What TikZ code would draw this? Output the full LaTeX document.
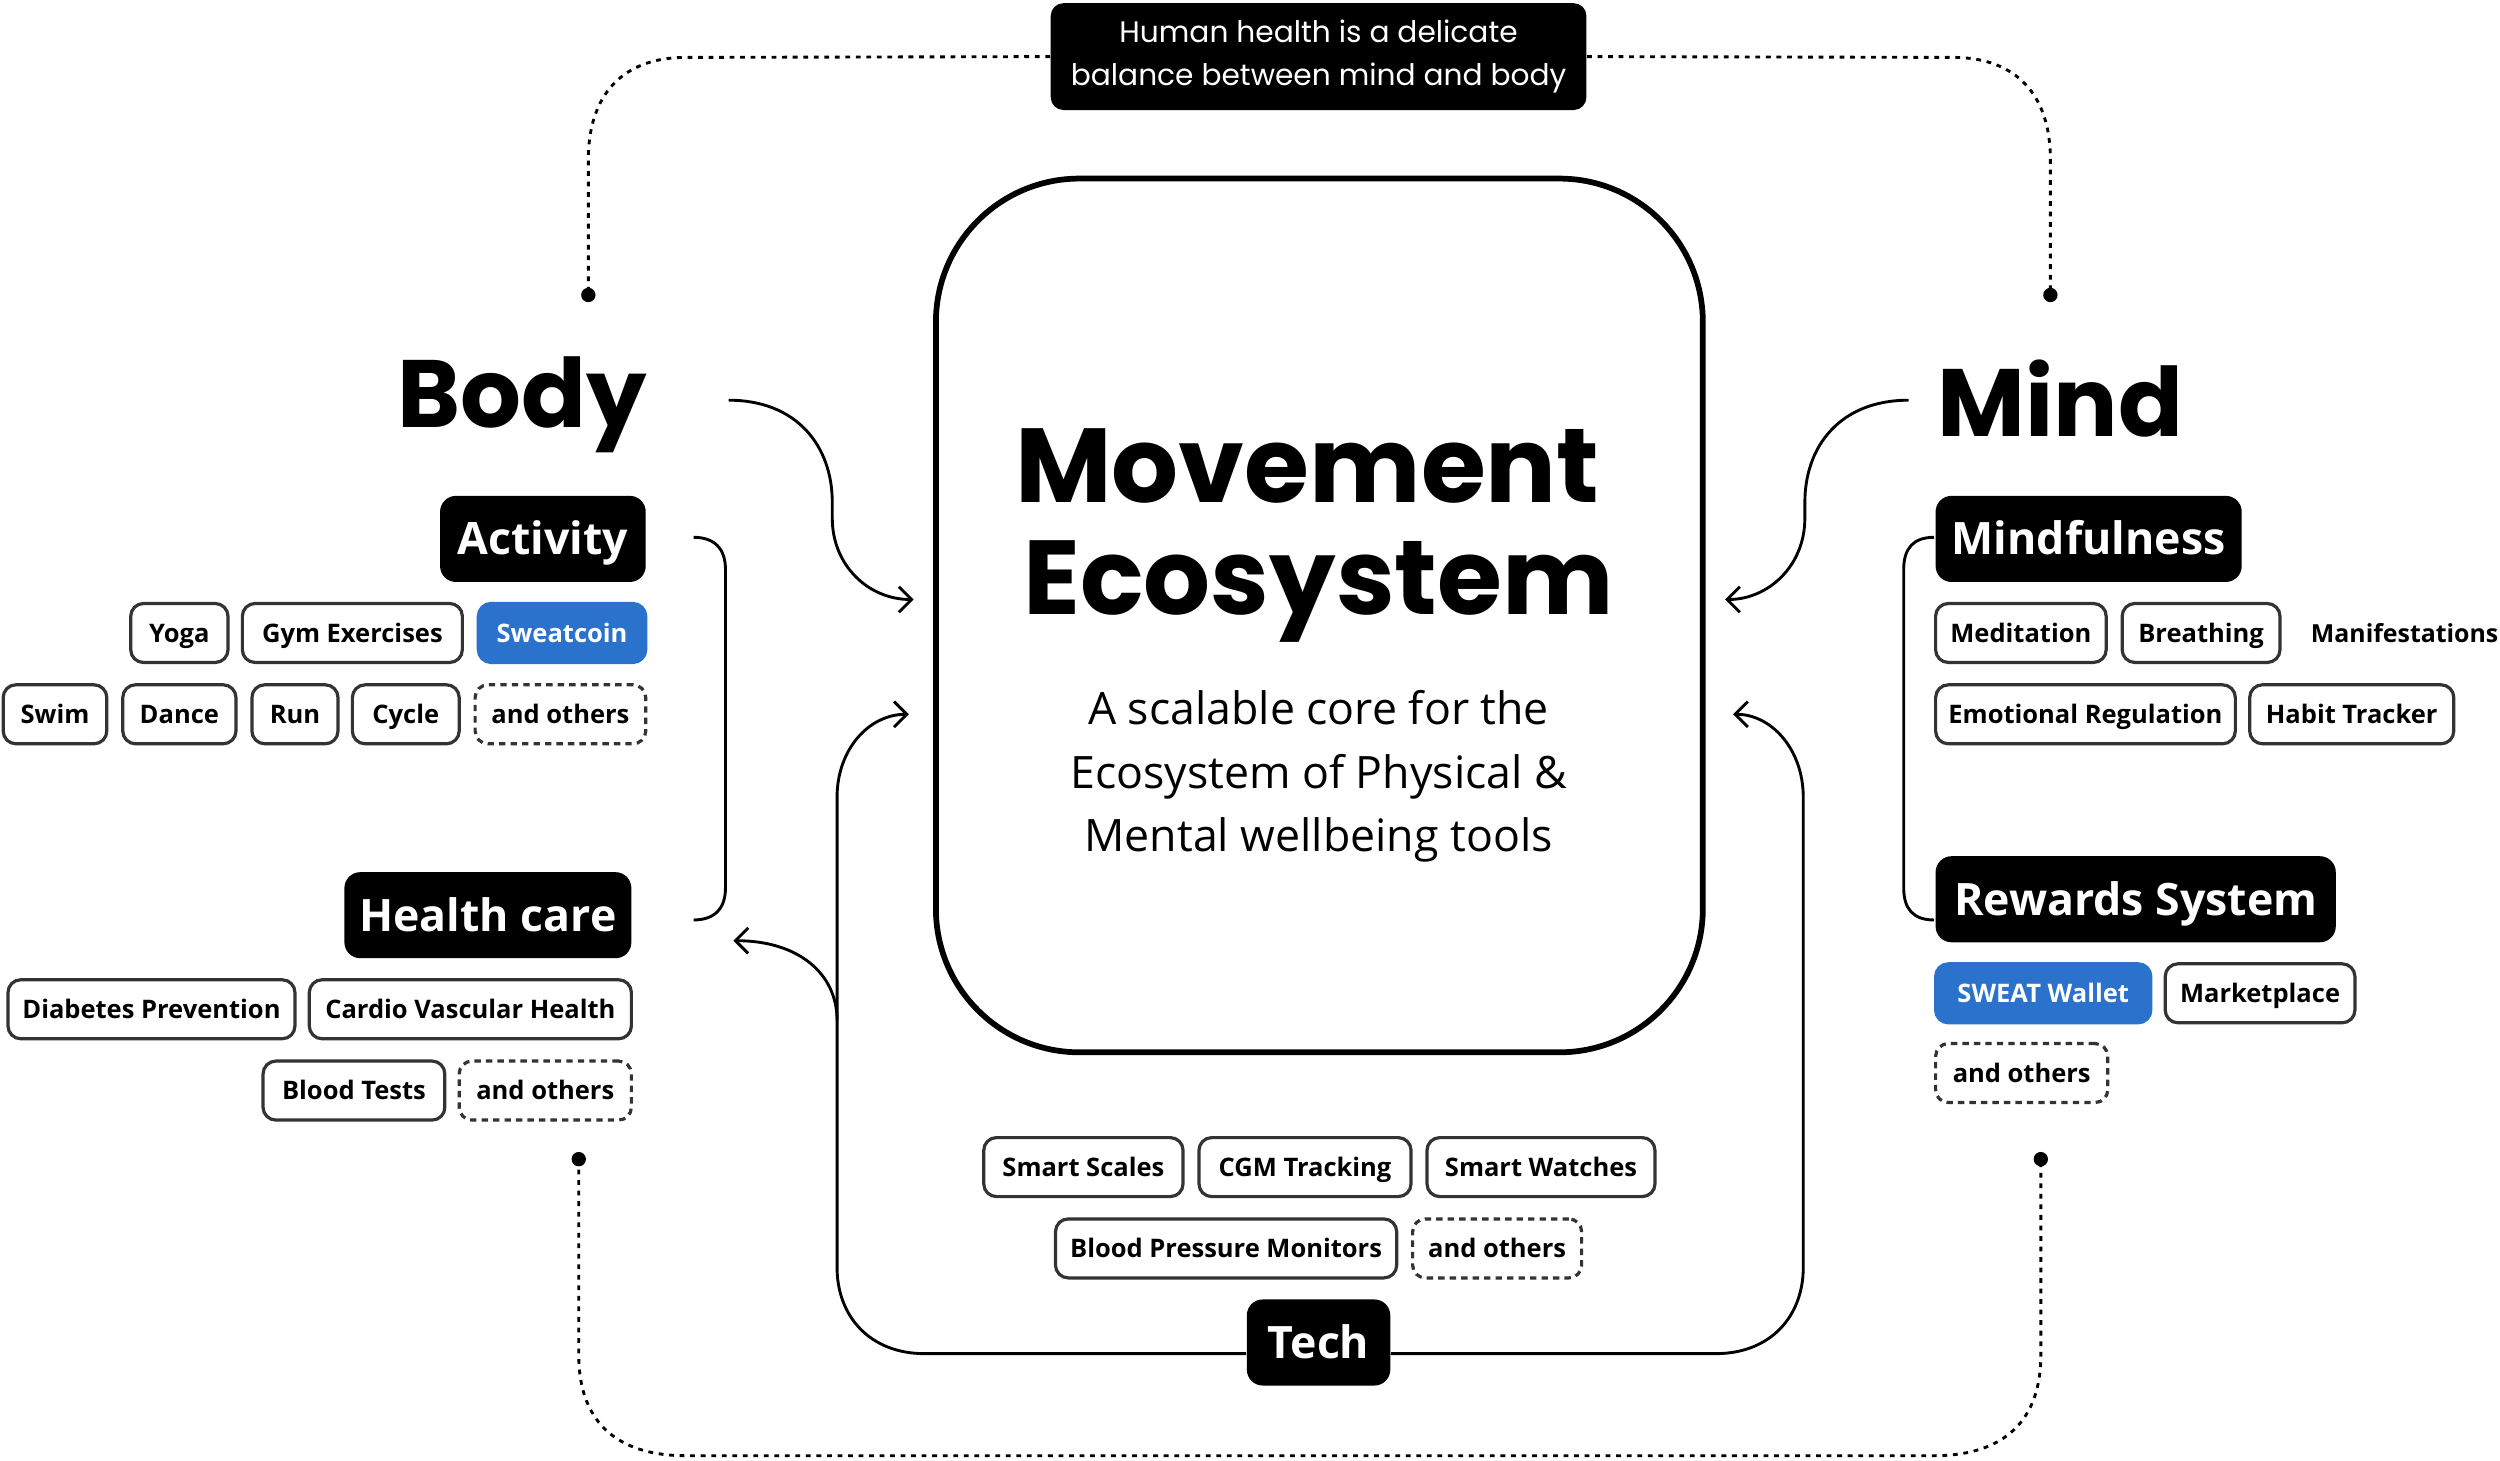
\documentclass[tikz,border=0pt]{standalone}
\usepackage{fontspec}
\setmainfont{Open Sans}
\newfontfamily\pop{Poppins}
\usetikzlibrary{arrows.meta}
\definecolor{blu}{HTML}{2A72CC}
\definecolor{chipline}{HTML}{333333}
\tikzset{
 chip/.style={draw=chipline,line width=1pt,rounded corners=4pt,minimum height=18.5pt,inner sep=0pt,text height=5.8pt,text depth=0pt,font=\fontsize{8}{9}\selectfont\bfseries,text=black},
 bluechip/.style={chip,fill=blu,draw=blu,text=white},
 dashchip/.style={chip,dash pattern=on 2pt off 1.6pt},
 lab/.style={fill=black,text=white,rounded corners=5pt,minimum height=27pt,inner sep=0pt,text height=10pt,text depth=0pt,font=\fontsize{14}{16}\selectfont\bfseries},
 conn/.style={line width=0.9pt,black},
 arr/.style={conn,-{Straight Barb[length=4pt,width=8pt]}},
 dots/.style={line width=0.9pt,dash pattern=on 1.5pt off 1.8pt},
}
\newcommand{\chipat}[6]{\node[#6,minimum width={(#3-#2)*0.5pt}] (#1) at ({(#2+#3)/2},#4) {#5};}
\begin{document}
\begin{tikzpicture}[x=0.5pt,y=-0.5pt]
\useasboundingbox[fill=white] (0,0) rectangle (1568,916);
% top box
\node[fill=black,rounded corners=4pt,minimum width=168pt,minimum height=33.5pt,inner sep=0pt,text=white,align=center,font=\pop\fontsize{9.3}{13.5}\selectfont] (top) at (827,35.5) {Human health is a delicate\\balance between mind and body};
\coordinate (dl) at (369,185); \coordinate (dr) at (1286,185);
\coordinate (bl) at (363,727); \coordinate (br) at (1280,727);
\fill (dl) circle (4.5); \fill (dr) circle (4.5); \fill (bl) circle (4.5); \fill (br) circle (4.5);
\draw[dots] (top.west) -- (430,36) .. controls (390,36) and (369,60) .. (369,100) -- (dl);
\draw[dots] (top.east) -- (1225,36) .. controls (1265,36) and (1286,60) .. (1286,100) -- (dr);
\draw[dots] (bl) -- (363,850) .. controls (363,890) and (385,913) .. (430,913) -- (1213,913) .. controls (1258,913) and (1280,890) .. (1280,850) -- (br);
% center
\draw[line width=1.8pt,rounded corners=45pt,fill=white] (587,112) rectangle (1068,660);
\node[font=\pop\bfseries\fontsize{33}{38}\selectfont] (mov) at (820,292) {Movement};
\node[font=\pop\bfseries\fontsize{33}{38}\selectfont] (eco) at (827,371) {Ecosystem};
\node[align=center,font=\fontsize{14}{20}\selectfont] (sub) at (827,487) {A scalable core for the\\Ecosystem of Physical \&\\Mental wellbeing tools};
% Body / Mind
\node[anchor=east,font=\pop\bfseries\fontsize{30}{34}\selectfont,inner sep=0pt] (body) at (406,254) {Body};
\node[anchor=west,font=\pop\bfseries\fontsize{30}{34}\selectfont,inner sep=0pt] (mind) at (1215,250) {Mind};
\coordinate (ba) at (573,376); \coordinate (ma) at (1082,376);
\draw[arr] (457,251) .. controls (500,251) and (522,280) .. (522,315) -- (522,325) .. controls (522,355) and (545,376) .. (ba);
\draw[arr] (1197,251) .. controls (1154,251) and (1132,280) .. (1132,315) -- (1132,325) .. controls (1132,355) and (1109,376) .. (ma);
% labels
\node[lab,minimum width=64.5pt] (act) at (340.5,338) {Activity};
\node[lab,minimum width=90pt] (hc) at (306,574) {Health care};
\node[lab,minimum width=96pt] (mf) at (1310,338) {Mindfulness};
\node[lab,minimum width=125.5pt] (rs) at (1339.5,564) {Rewards System};
\node[lab,minimum width=45pt] (tech) at (827,842) {Tech};
% brackets
\draw[conn] (435,337) .. controls (448,337) and (455,344) .. (455,357) -- (455,557) .. controls (455,570) and (448,577) .. (435,577);
\draw[conn] (1213,337) .. controls (1200,337) and (1194,344) .. (1194,357) -- (1194,557) .. controls (1194,570) and (1200,577) .. (1213,577);
% tech connectors
\coordinate (la) at (570,448); \coordinate (ra) at (1087,448); \coordinate (ha) at (460,590);
\draw[arr] ([yshift=-3.5pt]tech.west) -- (580,849) .. controls (545,849) and (525,825) .. (525,795) -- (525,500) .. controls (525,470) and (545,448) .. (la);
\draw[arr] (525,640) .. controls (525,610) and (500,590) .. (ha);
\draw[arr] ([yshift=-3.5pt]tech.east) -- (1076,849) .. controls (1111,849) and (1131,825) .. (1131,795) -- (1131,500) .. controls (1131,470) and (1111,448) .. (ra);
% chips body
\chipat{yoga}{82}{143}{397}{Yoga}{chip}
\chipat{gym}{152}{290}{397}{Gym Exercises}{chip}
\chipat{swc}{300}{405}{397}{Sweatcoin}{bluechip}
\chipat{swim}{2}{67}{448}{Swim}{chip}
\chipat{dance}{77}{148}{448}{Dance}{chip}
\chipat{run}{158}{212}{448}{Run}{chip}
\chipat{cyc}{221}{288}{448}{Cycle}{chip}
\chipat{ao1}{298}{405}{448}{and others}{dashchip}
\chipat{dia}{5}{185}{633}{Diabetes Prevention}{chip}
\chipat{car}{194}{396}{633}{Cardio Vascular Health}{chip}
\chipat{bt}{165}{279}{684}{Blood Tests}{chip}
\chipat{ao2}{288}{396}{684}{and others}{dashchip}
% chips mind
\chipat{med}{1214}{1321}{397}{Meditation}{chip}
\chipat{bre}{1331}{1430}{397}{Breathing}{chip}
\node[anchor=west,inner sep=0pt,text height=5.8pt,text depth=0pt,font=\fontsize{7.8}{9}\selectfont\bfseries] (man) at (1449,397) {Manifestations};
\chipat{emo}{1214}{1402}{448}{Emotional Regulation}{chip}
\chipat{hab}{1411}{1539}{448}{Habit Tracker}{chip}
\chipat{sw}{1214}{1349}{623}{SWEAT Wallet}{bluechip}
\chipat{mkt}{1358}{1477}{623}{Marketplace}{chip}
\chipat{ao3}{1214}{1322}{673}{and others}{dashchip}
% chips tech
\chipat{ss}{617}{742}{732}{Smart Scales}{chip}
\chipat{cgm}{752}{885}{732}{CGM Tracking}{chip}
\chipat{smw}{895}{1038}{732}{Smart Watches}{chip}
\chipat{bpm}{662}{876}{783}{Blood Pressure Monitors}{chip}
\chipat{ao4}{886}{992}{783}{and others}{dashchip}
\end{tikzpicture}
\end{document}
